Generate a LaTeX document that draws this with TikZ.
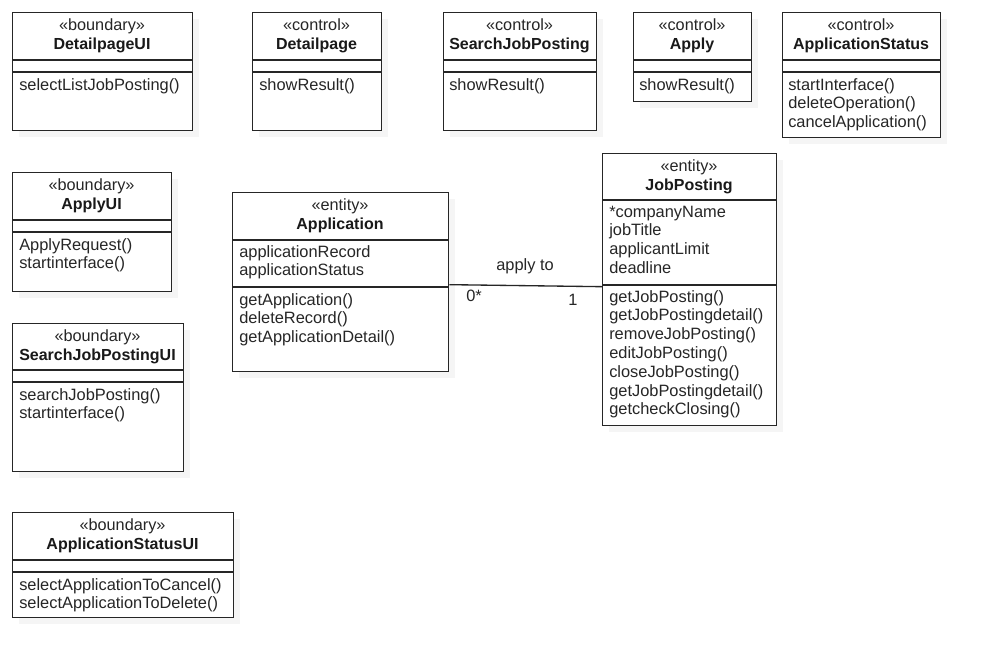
\documentclass[tikz,border=0pt]{standalone}
\usepackage{fontspec}
\setmainfont{Liberation Sans}
\usetikzlibrary{calc}
\tikzset{
  umlframe/.style={draw=black!85, line width=1pt, fill=white, inner sep=0pt, anchor=north west},
  umlshadow/.style={fill=black!4, draw=none},
  umlsep/.style={draw=black!85, line width=1pt},
  umltext/.style={anchor=base west, inner sep=0pt, text=black!85, font=\fontsize{12.3}{14}\selectfont},
  umlstereo/.style={anchor=base, inner sep=0pt, text=black!85, font=\fontsize{12.2}{14}\selectfont},
  umlname/.style={anchor=base, inner sep=0pt, text=black!90, font=\fontsize{12}{14}\selectfont\bfseries},
  assoc/.style={draw=black!85, line width=1pt},
  assoclabel/.style={inner sep=0pt, text=black!85, font=\fontsize{12.3}{14}\selectfont},
}
% #1 name, #2 x1, #3 y1, #4 x2, #5 y2, #6 sep1, #7 sep2, #8 stereotype, #9 class name
\newcommand{\umlclassbox}[9]{%
  \fill[umlshadow] (#2+7,#3+7) rectangle (#4+7,#5+7);
  \node[umlframe, minimum width=(#4-#2)*0.75pt, minimum height=(#5-#3)*0.75pt] (#1) at (#2,#3) {};
  \draw[umlsep] (#2,#6) -- (#4,#6);
  \draw[umlsep] (#2,#7) -- (#4,#7);
  \node[umlstereo] (#1-st) at ({(#2+#4)/2},#3+18) {«#8»};
  \node[umlname] (#1-nm) at ({(#2+#4)/2},#3+37) {#9};
}
% #1 name prefix, #2 x, #3 first baseline y, #4 lines
\newcommand{\umllines}[4]{%
  \foreach \t [count=\i from 0] in {#4} {
    \node[umltext] (#1-\i) at (#2,#3+\i*18.8) {\t};
  }
}
\begin{document}
\begin{tikzpicture}[x=0.75pt,y=-0.75pt]
\useasboundingbox[fill=white] (0,0) rectangle (990,668);

% Row 1
\umlclassbox{dpui}{12}{12}{192}{130}{60}{72}{boundary}{DetailpageUI}
\umllines{dpuiop}{19}{90}{selectListJobPosting()}

\umlclassbox{dp}{252}{12}{381}{130}{60}{72}{control}{Detailpage}
\umllines{dpop}{259}{90}{showResult()}

\umlclassbox{sjp}{443}{12}{596}{130}{60}{72}{control}{SearchJobPosting}
\umllines{sjpop}{449}{90}{showResult()}

\umlclassbox{ap}{633}{12}{751}{101}{60}{72}{control}{Apply}
\umllines{apop}{639}{90}{showResult()}

\umlclassbox{as}{782}{12}{940}{137}{60}{72}{control}{ApplicationStatus}
\umllines{asop}{788}{90}{startInterface(),deleteOperation(),cancelApplication()}

% Left column
\umlclassbox{apui}{12}{172}{171}{291}{220}{232}{boundary}{ApplyUI}
\umllines{apuiop}{19}{250}{ApplyRequest(),startinterface()}

\umlclassbox{sjpui}{12}{323}{183}{471}{370}{382}{boundary}{SearchJobPostingUI}
\umllines{sjpuiop}{19}{400}{searchJobPosting(),startinterface()}

\umlclassbox{asui}{12}{512}{233}{617}{560}{572}{boundary}{ApplicationStatusUI}
\umllines{asuiop}{19}{590}{selectApplicationToCancel(),selectApplicationToDelete()}

% Entities
\umlclassbox{app}{232}{192}{448}{371}{240}{287}{entity}{Application}
\umllines{appat}{239}{257}{applicationRecord,applicationStatus}
\umllines{appop}{239}{305}{getApplication(),deleteRecord(),getApplicationDetail()}

\umlclassbox{jp}{602}{153}{776}{425}{200}{285}{entity}{JobPosting}
\umllines{jpat}{609}{217}{*companyName,jobTitle,applicantLimit,deadline}
\umllines{jpop}{609}{302}{getJobPosting(),getJobPostingdetail(),removeJobPosting(),editJobPosting(),closeJobPosting(),getJobPostingdetail(),getcheckClosing()}

% Association
\draw[assoc] ($(app.east)+(0,2.5)$) -- ($(jp.west)+(0,-3)$);
\node[assoclabel] (lblapply) at (525,266) {apply to};
\node[assoclabel] (lblmany) at (474,296) {0*};
\node[assoclabel] (lblone) at (573,300) {1};
\end{tikzpicture}
\end{document}
